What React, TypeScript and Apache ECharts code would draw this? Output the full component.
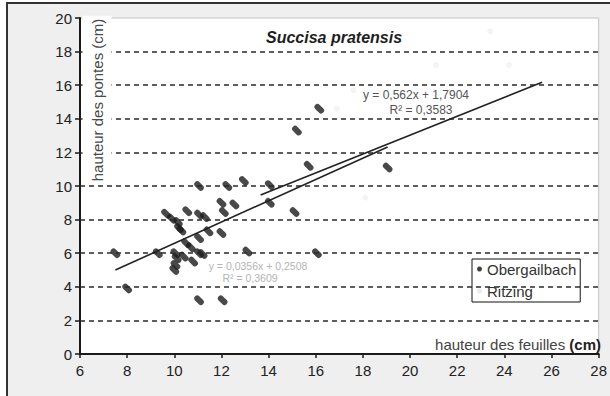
import React, { useEffect, useRef } from "react";
import * as echarts from "echarts";

// ---- data ----
const xTickValues = [6, 8, 10, 12, 14, 16, 18, 20, 22, 24, 26, 28];
const yGridValues = [2, 4, 6, 8, 10, 12, 14, 16, 18];

const obergailbachX = [
  7.5, 8.0, 9.3, 9.65, 9.9, 10.15, 10.2, 10.3, 10.55, 11.05, 11.3, 11.45, 12.0, 11.05,
  10.7, 10.5, 10.05, 10.1, 10.05, 10.0, 10.4, 10.8, 11.05, 11.2, 11.05, 12.05, 13.1,
  11.05, 12.25, 12.95, 14.05, 14.05, 12.0, 12.55, 12.1, 15.1, 15.2, 16.15, 15.7, 19.05, 16.05,
];
const obergailbachY = [
  6.0, 3.9, 6.0, 8.35, 8.05, 7.85, 7.5, 7.35, 8.5, 8.3, 8.15, 7.3, 7.2, 6.9,
  6.35, 6.6, 6.0, 5.7, 5.3, 5.0, 5.8, 5.5, 6.0, 5.95, 3.2, 3.2, 6.1,
  10.0, 10.0, 10.3, 10.05, 9.0, 9.0, 8.9, 8.45, 8.45, 13.3, 14.6, 11.2, 11.1, 6.0,
];

const ritzingX = [17.6, 21.1, 24.2, 23.4, 16.9, 18.1];
const ritzingY = [15.7, 17.2, 17.2, 19.2, 14.6, 9.3];

// Obergailbach trend line (over its x range)
const trendObergailbachX = [7.5, 19.05];
const trendObergailbachY = [5.0, 12.32];
// labelled trend line y = 0,562x + 1,7904
const trendLabelledX = [13.66, 25.6];
const trendLabelledY = [9.47, 16.18];

const FONT = '"Liberation Sans", Arial, sans-serif';
const CAPSULE = "path://M3,0 H9 A3,3 0 0 1 9,6 H3 A3,3 0 0 1 3,0 Z";

const zip = (xs: number[], ys: number[]) => xs.map((x, i) => [x, ys[i]]);

export default function App() {
  const ref = useRef<HTMLDivElement>(null);

  useEffect(() => {
    if (!ref.current) return;
    const chart = echarts.init(ref.current, undefined, { renderer: "svg" });
    const axisLineStyle = { color: "#1a1a1a", width: 2 };
    const option: any = {
      animation: false,
      backgroundColor: "transparent",
      textStyle: { fontFamily: FONT },
      grid: {
        left: 80,
        top: 18,
        width: 522.5,
        height: 336,
        show: true,
        backgroundColor: "#ffffff",
        borderColor: "#c4c4c4",
        borderWidth: 1,
      },
      xAxis: {
        type: "value",
        min: xTickValues[0],
        max: xTickValues[xTickValues.length - 1],
        interval: 2,
        axisLine: { show: true, onZero: false, lineStyle: axisLineStyle },
        axisTick: { show: true, length: 4, lineStyle: { color: "#1a1a1a", width: 1.5 } },
        axisLabel: { fontSize: 15, color: "#222", margin: 9, fontFamily: FONT },
        splitLine: { show: false },
      },
      yAxis: {
        type: "value",
        min: 0,
        max: 20,
        interval: 2,
        axisLine: { show: true, onZero: false, lineStyle: axisLineStyle },
        axisTick: { show: true, length: 5, lineStyle: { color: "#1a1a1a", width: 1.5 } },
        axisLabel: { fontSize: 15, color: "#222", margin: 8, fontFamily: FONT },
        splitLine: { show: false },
      },
      legend: {
        orient: "vertical",
        left: 472,
        top: 259,
        padding: [2, 4, 3, 5],
        itemGap: 6,
        itemWidth: 5,
        itemHeight: 5,
        backgroundColor: "#ffffff",
        borderColor: "#111",
        borderWidth: 1,
        borderRadius: 0,
        textStyle: { fontSize: 15, lineHeight: 16, color: "#333", fontFamily: FONT },
        data: [
          { name: "Obergailbach", icon: "circle", itemStyle: { color: "#111" } },
          { name: "Ritzing", icon: "circle", itemStyle: { color: "#e6e6e6" } },
        ],
      },
      series: [
        {
          name: "Obergailbach",
          type: "scatter",
          data: zip(obergailbachX, obergailbachY),
          symbol: CAPSULE,
          symbolSize: [11, 6],
          symbolRotate: -45,
          itemStyle: { color: "#1c1c1c" },
          z: 4,
          markLine: {
            silent: true,
            symbol: ["none", "none"],
            label: { show: false },
            lineStyle: { type: [5, 4], color: "#2a2a2a", width: 1.6 },
            data: yGridValues.map((v) => ({ yAxis: v })),
          },
        },
        {
          name: "Ritzing",
          type: "scatter",
          data: zip(ritzingX, ritzingY),
          symbol: "circle",
          symbolSize: 6,
          itemStyle: { color: "#f1f1f1" },
          z: 3,
        },
        {
          name: "trendObergailbach",
          type: "line",
          data: zip(trendObergailbachX, trendObergailbachY),
          symbol: "none",
          lineStyle: { color: "#222", width: 1.6 },
          z: 5,
        },
        {
          name: "trendLabelled",
          type: "line",
          data: zip(trendLabelledX, trendLabelledY),
          symbol: "none",
          lineStyle: { color: "#222", width: 1.6 },
          z: 5,
        },
      ],
      graphic: [
        {
          type: "text",
          x: 334,
          y: 37,
          z: 10,
          style: {
            text: "Succisa pratensis",
            font: `italic bold 16px ${FONT}`,
            fill: "#1e1e1e",
            textAlign: "center",
            textVerticalAlign: "middle",
          },
        },
        {
          type: "text",
          x: 97,
          y: 100,
          rotation: Math.PI / 2,
          z: 10,
          style: {
            text: "hauteur des pontes (cm)",
            font: `15px ${FONT}`,
            fill: "#4a4a4a",
            textAlign: "center",
            textVerticalAlign: "middle",
            backgroundColor: "#ffffff",
            padding: [7, 3],
          },
        },
        {
          type: "text",
          x: 601,
          y: 344,
          z: 10,
          style: {
            text: "hauteur des feuilles {b|(cm)}",
            font: `15px ${FONT}`,
            fill: "#444",
            textAlign: "right",
            textVerticalAlign: "middle",
            rich: { b: { font: `bold 15px ${FONT}`, fill: "#222" } },
          },
        },
        {
          type: "text",
          x: 416,
          y: 95,
          z: 10,
          style: {
            text: "y = 0,562x + 1,7904",
            font: `12px ${FONT}`,
            fill: "#555",
            textAlign: "center",
            textVerticalAlign: "middle",
          },
        },
        {
          type: "text",
          x: 421,
          y: 110,
          z: 10,
          style: {
            text: "R² = 0,3583",
            font: `12px ${FONT}`,
            fill: "#555",
            textAlign: "center",
            textVerticalAlign: "middle",
          },
        },
        {
          type: "text",
          x: 258,
          y: 266,
          z: 10,
          style: {
            text: "y = 0,0356x + 0,2508",
            font: `10.5px ${FONT}`,
            fill: "#b4b4b4",
            textAlign: "center",
            textVerticalAlign: "middle",
          },
        },
        {
          type: "text",
          x: 250,
          y: 278,
          z: 10,
          style: {
            text: "R² = 0,3609",
            font: `10.5px ${FONT}`,
            fill: "#b4b4b4",
            textAlign: "center",
            textVerticalAlign: "middle",
          },
        },
      ],
    };
    chart.setOption(option);
    return () => chart.dispose();
  }, []);

  return (
    <div style={{ position: "fixed", left: 0, top: 0, width: 610, height: 396, background: "#ffffff", overflow: "hidden" }}>
      <div
        style={{
          position: "absolute",
          left: 6,
          top: 2,
          width: 604,
          height: 394,
          background: "#efefef",
          borderTop: "2px solid #333",
          borderLeft: "2px solid #333",
          boxSizing: "border-box",
        }}
      />
      <div ref={ref} style={{ position: "absolute", left: 0, top: 0, width: 610, height: 396 }} />
    </div>
  );
}
